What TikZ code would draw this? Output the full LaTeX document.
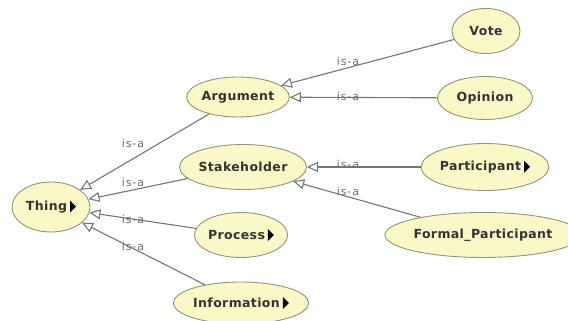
\documentclass[tikz,border=0pt]{standalone}
\usepackage{fontspec}
\setmainfont{DejaVu Sans}
\newfontfamily\classfont{DejaVu Sans}[LetterSpace=3]
\newfontfamily\labelfont{DejaVu Sans}[LetterSpace=8]
\usetikzlibrary{arrows.meta,shapes.geometric}

\definecolor{classfill}{RGB}{250,248,198}
\definecolor{classedge}{RGB}{150,148,118}
\definecolor{linkgray}{RGB}{118,118,118}
\definecolor{labelgray}{RGB}{110,110,110}

% small black marker for classes that have hidden subclasses
\newcommand{\expandmark}{\hspace{3pt}\tikz[baseline=0pt]\fill[black] (0pt,-2pt)--(0pt,10pt)--(6pt,4pt)--cycle;}

\tikzset{
  cls/.style={ellipse, draw=classedge, fill=classfill, line width=0.9pt,
    inner sep=0pt, font=\classfont\bfseries\fontsize{12.5}{15}\selectfont, text=black!80},
  isa/.style={-{Triangle[length=11pt,width=10pt,fill=white]}, draw=linkgray, line width=1.1pt},
  lbl/.style={font=\labelfont\fontsize{11}{13}\selectfont, text=labelgray, inner sep=0pt}
}

\begin{document}
\begin{tikzpicture}[x=1pt,y=-1pt]
  \fill[white] (0,0) rectangle (568,321);
  \useasboundingbox (0,0) rectangle (568,321);
  \clip (0,0) rectangle (568,321);

  % classes
  \node[cls, minimum width=78pt, minimum height=50pt] (thing) at (51,207) {Thing\expandmark};
  \node[cls, minimum width=100pt, minimum height=40pt] (argument) at (238,97) {Argument};
  \node[cls, minimum width=127pt, minimum height=45pt] (stakeholder) at (243,167) {Stakeholder};
  \node[cls, minimum width=92pt, minimum height=45pt] (process) at (241,235) {Process\expandmark};
  \node[cls, minimum width=118pt, minimum height=42pt] (information) at (241,303) {Information\expandmark};
  \node[cls, minimum width=68pt, minimum height=45pt] (vote) at (486,31) {Vote};
  \node[cls, minimum width=95pt, minimum height=43pt] (opinion) at (485,98) {Opinion};
  \node[cls, minimum width=116pt, minimum height=47pt] (participant) at (485,167) {Participant\expandmark};
  \node[cls, minimum width=170pt, minimum height=45pt] (formal) at (483,235) {Formal\_Participant};

  % subclass links
  \draw[isa] (vote) -- (argument);
  \draw[isa] (opinion) -- (argument);
  \draw[isa] (participant) -- (stakeholder);
  \draw[isa] (formal) -- (stakeholder);
  \draw[isa] (argument) -- (thing);
  \draw[isa] (stakeholder) -- (thing);
  \draw[isa] (process) -- (thing);
  \draw[isa] (information) -- (thing);

  % link labels
  \node[lbl] (l1) at (348,61) {is-a};
  \node[lbl] (l2) at (348,96) {is-a};
  \node[lbl] (l3) at (348,164) {is-a};
  \node[lbl] (l4) at (348,191) {is-a};
  \node[lbl] (l5) at (133,143) {is-a};
  \node[lbl] (l6) at (133,182) {is-a};
  \node[lbl] (l7) at (133,219) {is-a};
  \node[lbl] (l8) at (133,246) {is-a};
\end{tikzpicture}
\end{document}
